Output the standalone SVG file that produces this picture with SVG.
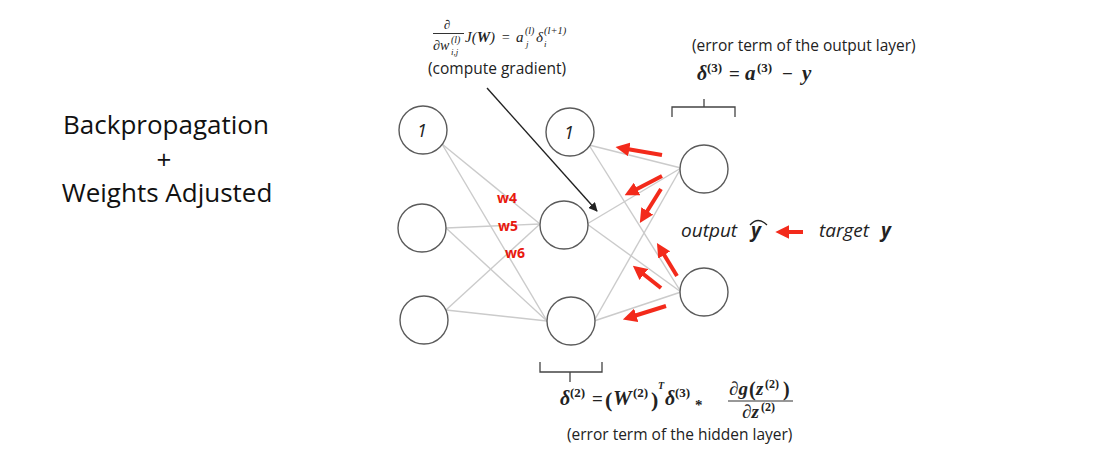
<svg xmlns="http://www.w3.org/2000/svg" width="1120" height="468" viewBox="0 0 1120 468">
<style>
.node{fill:#fff;stroke:#5a5a5a;stroke-width:1.4}
.edge{stroke:#cbcbcb;stroke-width:1.4;fill:none}
.red{stroke:#f32a1b;stroke-width:4;fill:none;marker-end:url(#rh)}
.lbl{font-family:"Open Sans",sans-serif;font-size:15.5px;fill:#222}
.big{font-family:"Open Sans",sans-serif;font-size:26px;fill:#111;text-anchor:middle}
.m{font-family:"Liberation Serif",serif;font-weight:bold;font-style:italic;fill:#222}
.mr{font-family:"Liberation Serif",serif;font-weight:bold;fill:#222}
.mt{font-family:"Liberation Serif",serif;font-style:italic;fill:#222}
.w{font-family:"Open Sans",sans-serif;font-weight:bold;font-size:14px;fill:#e8190f}
.one{font-family:"Open Sans",sans-serif;font-style:italic;font-size:18px;fill:#222;text-anchor:middle}
.it{font-family:"Open Sans",sans-serif;font-style:italic;font-size:19px;fill:#222}
.brace{stroke:#444;stroke-width:1.3;fill:none}
</style>
<defs>
<marker id="rh" markerUnits="userSpaceOnUse" markerWidth="14" markerHeight="14" viewBox="0 0 12 12" refX="2" refY="6" orient="auto">
<path d="M0,0 L12,6 L0,12 Z" fill="#f32a1b"/>
</marker>
<marker id="bh" markerUnits="userSpaceOnUse" markerWidth="9" markerHeight="9" viewBox="0 0 10 10" refX="9" refY="5" orient="auto">
<path d="M0,0 L10,5 L0,10 Z" fill="#222"/>
</marker>
</defs>

<rect width="1120" height="468" fill="#fff"/>

<g id="title">
<text class="big" x="166" y="134">Backpropagation</text>
<text class="big" x="164" y="169">+</text>
<text class="big" x="167" y="202">Weights Adjusted</text>
</g>

<g id="connectors">
<line class="edge" x1="442" y1="144" x2="540" y2="224"/>
<line class="edge" x1="442" y1="144" x2="547" y2="321"/>
<line class="edge" x1="446" y1="228" x2="540" y2="224"/>
<line class="edge" x1="446" y1="228" x2="547" y2="321"/>
<line class="edge" x1="446" y1="310" x2="540" y2="224"/>
<line class="edge" x1="446" y1="310" x2="547" y2="321"/>
<line class="edge" x1="589" y1="145" x2="681" y2="168"/>
<line class="edge" x1="589" y1="145" x2="681" y2="292"/>
<line class="edge" x1="587" y1="224" x2="681" y2="168"/>
<line class="edge" x1="587" y1="224" x2="681" y2="292"/>
<line class="edge" x1="594" y1="321" x2="681" y2="168"/>
<line class="edge" x1="594" y1="321" x2="681" y2="292"/>
<line x1="487" y1="88" x2="597" y2="211" stroke="#222" stroke-width="1.4" marker-end="url(#bh)"/>
<line class="red" x1="662" y1="155" x2="627" y2="149"/>
<line class="red" x1="662" y1="176" x2="635" y2="190"/>
<line class="red" x1="661" y1="189" x2="646" y2="213"/>
<line class="red" x1="677" y1="276" x2="663" y2="253"/>
<line class="red" x1="661" y1="288" x2="642" y2="273"/>
<line class="red" x1="666" y1="306" x2="634" y2="316"/>
<line class="red" x1="803" y1="232" x2="787" y2="232"/>
</g>

<g id="in1"><circle class="node" cx="423" cy="130" r="24"/><text class="one" x="422" y="137">1</text></g>
<g id="in2"><circle class="node" cx="422" cy="228" r="24"/></g>
<g id="in3"><circle class="node" cx="424" cy="320" r="24"/></g>
<g id="hid1"><circle class="node" cx="570" cy="132" r="24"/><text class="one" x="569" y="139">1</text></g>
<g id="hid2"><circle class="node" cx="564" cy="225" r="24"/></g>
<g id="hid3"><circle class="node" cx="571" cy="321" r="24"/></g>
<g id="out1"><circle class="node" cx="704" cy="169" r="24"/></g>
<g id="out2"><circle class="node" cx="704" cy="292" r="24"/></g>

<g id="weights">
<text class="w" x="497" y="203">w4</text>
<text class="w" x="498" y="231">w5</text>
<text class="w" x="505" y="258">w6</text>
</g>

<g id="gradient">
<text class="mt" x="447" y="29" font-size="13" text-anchor="middle">∂</text>
<line x1="433" y1="33.5" x2="464" y2="33.5" stroke="#333" stroke-width="1"/>
<text class="mt" x="433" y="50" font-size="14">∂w</text>
<text class="mt" x="451" y="43" font-size="10">(l)</text>
<text class="mt" x="451" y="55" font-size="9">i,j</text>
<text class="mt" x="465" y="42" font-size="15">J(<tspan font-weight="bold">W</tspan>)</text>
<text class="mt" x="501" y="42" font-size="14">=</text>
<text class="mt" x="516" y="42" font-size="15">a</text>
<text class="mt" x="525" y="34" font-size="10">(l)</text>
<text class="mt" x="526" y="47" font-size="9">j</text>
<text class="mt" x="536" y="42" font-size="15">δ</text>
<text class="mt" x="544" y="34" font-size="10.5">(l+1)</text>
<text class="mt" x="544" y="47" font-size="9">i</text>
<text class="lbl" x="428" y="74">(compute gradient)</text>
</g>

<g id="output-error">
<text class="lbl" x="692" y="51">(error term of the output layer)</text>
<text class="m" x="697" y="80" font-size="20">δ</text>
<text class="mr" x="707" y="72" font-size="13">(3)</text>
<text class="mr" x="729" y="80" font-size="19">=</text>
<text class="m" x="745" y="80" font-size="21">a</text>
<text class="mr" x="757" y="72" font-size="13">(3)</text>
<text class="mr" x="782" y="80" font-size="19">−</text>
<text class="m" x="802" y="80" font-size="21">y</text>
<path class="brace" d="M672,117 V107 H735 V117 M704,107 V99"/>
</g>

<g id="output-target">
<text class="it" x="681" y="237">output</text>
<text class="it" x="751" y="237" font-weight="bold">y</text>
<path d="M750,225 Q758,216 767,225" stroke="#222" stroke-width="1.3" fill="none"/>
<text class="it" x="819" y="237">target</text>
<text class="it" x="881" y="237" font-weight="bold">y</text>
</g>

<g id="hidden-error">
<path class="brace" d="M540,362 V372 H602 V362 M570,372 V382"/>
<text class="m" x="560" y="405" font-size="20">δ</text>
<text class="mr" x="570" y="397" font-size="13">(2)</text>
<text class="mr" x="592" y="405" font-size="19">=</text>
<text class="mr" x="605" y="407" font-size="22">(</text>
<text class="m" x="613" y="405" font-size="21">W</text>
<text class="mr" x="633" y="397" font-size="13">(2)</text>
<text class="mr" x="651" y="407" font-size="22">)</text>
<text class="m" x="658" y="389" font-size="10">T</text>
<text class="m" x="665" y="405" font-size="20">δ</text>
<text class="mr" x="675" y="397" font-size="13">(3)</text>
<text class="mr" x="695" y="410" font-size="15">*</text>
<text class="m" x="729" y="395" font-size="19">∂g</text>
<text class="mr" x="749" y="396" font-size="20">(</text>
<text class="m" x="756" y="395" font-size="19">z</text>
<text class="mr" x="765" y="388" font-size="12">(2)</text>
<text class="mr" x="783" y="396" font-size="20">)</text>
<line x1="728" y1="401" x2="793" y2="401" stroke="#333" stroke-width="1.2"/>
<text class="m" x="742" y="418" font-size="19">∂z</text>
<text class="mr" x="761" y="411" font-size="12">(2)</text>
<text class="lbl" x="567" y="440">(error term of the hidden layer)</text>
</g>
</svg>
